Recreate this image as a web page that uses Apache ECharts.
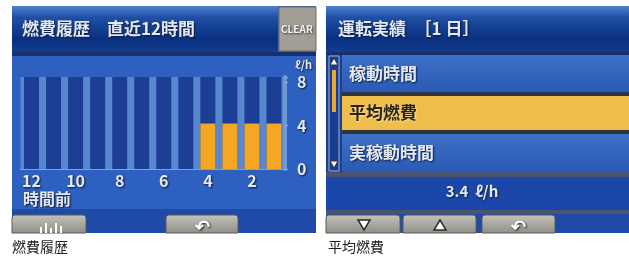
<!DOCTYPE html>
<html>
<head>
<meta charset="utf-8">
<script src="https://cdn.jsdelivr.net/npm/echarts@6/dist/echarts.min.js"></script>
<style>
  html, body { margin: 0; padding: 0; background: #fff; }
  #main { width: 629px; height: 258px; }
</style>
</head>
<body>
<div id="main"></div>
<script>
// data
const hours = ['12', '11', '10', '9', '8', '7', '6', '5', '4', '3', '2', '1'];
const fuelUse = [0, 0, 0, 0, 0, 0, 0, 0, 4.2, 4.2, 4.2, 4.2];
const yMax = 8.5;
const leftTitle = '燃費履歴　直近12時間';
const rightTitle = '運転実績　［1 日］';
const menuItems = ['稼動時間', '平均燃費', '実稼動時間'];
const selectedItem = 1;
const avgFuel = '3.4';
const captions = ['燃費履歴', '平均燃費'];

const FONT = '"Noto Sans CJK JP", "Noto Sans", sans-serif';
const lcd = {
  fill: '#e4e9f2', fontFamily: FONT, fontWeight: 'bold',
  textShadowColor: '#0a1838', textShadowBlur: 2, textShadowOffsetX: 1, textShadowOffsetY: 1
};
const headGrad = {
  type: 'linear', x: 0, y: 0, x2: 0, y2: 1,
  colorStops: [
    { offset: 0, color: '#4f80cf' }, { offset: 0.25, color: '#1f4fa5' },
    { offset: 0.7, color: '#0a3080' }, { offset: 1, color: '#123c8e' }
  ]
};
const rowGrad = {
  type: 'linear', x: 0, y: 0, x2: 0, y2: 1,
  colorStops: [{ offset: 0, color: '#3e70c6' }, { offset: 1, color: '#2a5ab4' }]
};
const btnGrad = {
  type: 'linear', x: 0, y: 0, x2: 0, y2: 1,
  colorStops: [{ offset: 0, color: '#c4c3bc' }, { offset: 1, color: '#8f8e88' }]
};

function button(x, w) {
  return { type: 'rect', shape: { x: x, y: 215, width: w, height: 18, r: [3, 3, 0, 0] },
    style: { fill: btnGrad, stroke: '#5a5a56', lineWidth: 1 } };
}
function tri(cx, cy, up) {
  const d = up ? -1 : 1;
  return { type: 'polygon', shape: { points: [[cx - 6, cy - 5 * d], [cx + 6, cy - 5 * d], [cx, cy + 5 * d]] },
    style: { fill: '#ffffff', stroke: '#2a2a2a', lineWidth: 1.5 } };
}

const graphics = [];
// ---- left panel
graphics.push(
  { type: 'rect', z: -10, shape: { x: 12, y: 6, width: 304, height: 227 }, style: { fill: '#2d60c0' } },
  { type: 'rect', z: -9, shape: { x: 12, y: 6, width: 266, height: 46 }, style: { fill: headGrad } },
  { type: 'rect', z: -9, shape: { x: 12, y: 52, width: 304, height: 4 }, style: { fill: '#15306a' } },
  { type: 'rect', z: -9, shape: { x: 279, y: 7, width: 37, height: 44 }, style: { fill: '#a09e95', stroke: '#6c6a62' } },
  { type: 'text', z: 5, style: Object.assign({}, lcd, { x: 281, y: 29, text: 'CLEAR', fontSize: 10, verticalAlign: 'middle', fill: '#f0f0f0', textShadowColor: '#333' }) },
  { type: 'text', z: 5, style: Object.assign({}, lcd, { x: 22, y: 29, text: leftTitle, fontSize: 17, verticalAlign: 'middle' }) },
  { type: 'rect', z: -9, shape: { x: 12, y: 209, width: 304, height: 24 }, style: { fill: '#1f4aa8' } },
  { type: 'text', z: 5, style: Object.assign({}, lcd, { x: 23, y: 199, text: '時間前', fontSize: 16, verticalAlign: 'middle' }) },
  { type: 'text', z: 5, style: Object.assign({}, lcd, { x: 295, y: 65, text: 'ℓ/h', fontSize: 11, verticalAlign: 'middle' }) },
  button(12, 74), button(166, 72)
);
// small chart icon on left button
[[40, 6], [45, 10], [50, 5], [55, 10], [60, 7]].forEach(function (b) {
  graphics.push({ type: 'rect', z: 6, shape: { x: b[0], y: 233 - b[1], width: 2, height: b[1] }, style: { fill: '#ffffff' } });
});
graphics.push({ type: 'text', z: 6, style: Object.assign({}, lcd, { x: 202, y: 226, text: '↶', fontSize: 18, align: 'center', verticalAlign: 'middle', fill: '#ffffff', textShadowColor: '#222' }) });

// ---- right panel
graphics.push(
  { type: 'rect', z: -10, shape: { x: 326, y: 6, width: 303, height: 227 }, style: { fill: '#1b3f92' } },
  { type: 'rect', z: -9, shape: { x: 326, y: 6, width: 303, height: 46 }, style: { fill: headGrad } },
  { type: 'rect', z: -9, shape: { x: 326, y: 52, width: 303, height: 3 }, style: { fill: '#15306a' } },
  { type: 'text', z: 5, style: Object.assign({}, lcd, { x: 338, y: 29, text: rightTitle, fontSize: 17, verticalAlign: 'middle' }) }
);
const rowY = [[55, 37], [96, 34], [134, 38]];
menuItems.forEach(function (name, i) {
  const sel = i === selectedItem;
  graphics.push(
    { type: 'rect', z: -8, shape: { x: 342, y: rowY[i][0], width: 287, height: rowY[i][1] },
      style: { fill: sel ? '#efbe4a' : rowGrad } },
    { type: 'text', z: 5, style: Object.assign({}, lcd, {
      x: 349, y: rowY[i][0] + rowY[i][1] / 2, text: name, fontSize: 17, verticalAlign: 'middle',
      fill: sel ? '#2a2418' : '#e4e9f2', textShadowColor: sel ? 'rgba(255,255,255,0.5)' : '#0a1838'
    }) }
  );
});
graphics.push(
  { type: 'rect', z: -8, shape: { x: 342, y: 92, width: 287, height: 4 }, style: { fill: '#2e3444' } },
  { type: 'rect', z: -8, shape: { x: 342, y: 130, width: 287, height: 4 }, style: { fill: '#2e3444' } },
  { type: 'rect', z: -8, shape: { x: 326, y: 172, width: 303, height: 5 }, style: { fill: '#4a5370' } },
  { type: 'rect', z: -8, shape: { x: 326, y: 177, width: 303, height: 33 }, style: { fill: '#1c47aa' } },
  { type: 'rect', z: -8, shape: { x: 326, y: 210, width: 303, height: 4 }, style: { fill: '#4a5370' } },
  { type: 'rect', z: -8, shape: { x: 326, y: 214, width: 303, height: 19 }, style: { fill: '#1f4aa8' } },
  { type: 'text', z: 5, style: Object.assign({}, lcd, { x: 472, y: 191, text: avgFuel + '  ℓ/h', fontSize: 15, align: 'center', verticalAlign: 'middle' }) },
  // scrollbar
  { type: 'rect', z: -7, shape: { x: 329, y: 56, width: 10, height: 115 }, style: { fill: '#183c8e', stroke: '#9fb4dc', lineWidth: 1 } },
  { type: 'rect', z: -6, shape: { x: 332, y: 70, width: 4, height: 42 }, style: { fill: '#e8a932' } },
  { type: 'polygon', z: -5, shape: { points: [[334, 58], [338, 65], [330, 65]] }, style: { fill: '#f4f4f4', stroke: '#333' } },
  { type: 'polygon', z: -5, shape: { points: [[330, 161], [338, 161], [334, 168]] }, style: { fill: '#f4f4f4', stroke: '#333' } },
  button(326, 74), button(403, 73), button(482, 73),
  tri(364, 225, false), tri(440, 225, true),
  { type: 'text', z: 6, style: Object.assign({}, lcd, { x: 518, y: 226, text: '↶', fontSize: 18, align: 'center', verticalAlign: 'middle', fill: '#ffffff', textShadowColor: '#222' }) }
);
// captions
graphics.push(
  { type: 'text', style: { x: 12, y: 247, text: captions[0], fontSize: 14, fontFamily: FONT, fill: '#222', verticalAlign: 'middle' } },
  { type: 'text', style: { x: 328, y: 247, text: captions[1], fontSize: 14, fontFamily: FONT, fill: '#222', verticalAlign: 'middle' } }
);

const chart = echarts.init(document.getElementById('main'));
chart.setOption({
  backgroundColor: '#ffffff',
  animation: false,
  grid: { left: 20.5, top: 77, width: 264.5, height: 92, show: true, backgroundColor: '#5687cf', borderWidth: 0 },
  xAxis: {
    type: 'category', data: hours,
    axisLine: { show: true, lineStyle: { color: '#7da3dc', width: 1 } },
    axisTick: { show: false },
    axisLabel: {
      interval: 1, margin: 4, fontSize: 16, fontFamily: FONT, fontWeight: 'bold', color: '#e4e9f2',
      textShadowColor: '#0a1838', textShadowBlur: 2, textShadowOffsetX: 1, textShadowOffsetY: 1
    }
  },
  yAxis: {
    type: 'value', position: 'right', min: 0, max: yMax, interval: 4,
    splitLine: { show: false },
    axisLine: { show: true, lineStyle: { color: '#6f98d6', width: 4 } },
    axisTick: { show: true, length: 3, lineStyle: { color: '#8fb0e0' } },
    axisLabel: {
      margin: 12, fontSize: 16, fontFamily: FONT, fontWeight: 'bold', color: '#e4e9f2',
      textShadowColor: '#0a1838', textShadowBlur: 2, textShadowOffsetX: 1, textShadowOffsetY: 1,
      formatter: function (v) { return v % 4 === 0 ? String(v) : ''; }
    }
  },
  series: [{
    type: 'bar', data: fuelUse, barWidth: 15,
    showBackground: true, backgroundStyle: { color: '#1c3f95' },
    itemStyle: { color: '#f5a623' }
  }],
  graphic: graphics
});
</script>
</body>
</html>
